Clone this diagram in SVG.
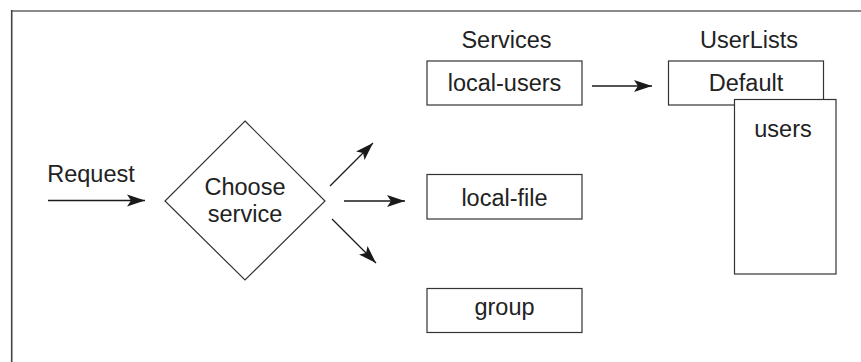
<svg xmlns="http://www.w3.org/2000/svg" width="861" height="362" viewBox="0 0 861 362">
<defs>
<marker id="ah" markerUnits="userSpaceOnUse" markerWidth="20" markerHeight="14" refX="18" refY="7" orient="auto">
<path d="M0,1 L18,7 L0,13 L4,7 Z" fill="#1a1a1a"/>
</marker>
</defs>
<style>
text{font-family:"Liberation Sans",Arial,sans-serif;font-size:23.5px;fill:#222;text-anchor:middle}
.box{fill:#fff;stroke:#333;stroke-width:1.2}
.c{stroke:#1a1a1a;stroke-width:1.3;fill:none;marker-end:url(#ah)}
</style>
<rect width="861" height="362" fill="#fff"/>
<g id="frame">
<line x1="11" y1="11" x2="861" y2="11" stroke="#8a8a8a" stroke-width="2"/>
<line x1="11.7" y1="10" x2="11.7" y2="362" stroke="#444" stroke-width="1.6"/>
</g>
<g id="request-label"><text x="91" y="181.7">Request</text></g>
<g id="choose-service">
<polygon class="box" points="245,121 325,201 245,280 165,201"/>
<text x="245" y="195">Choose</text>
<text x="245" y="222">service</text>
</g>
<g id="services-label"><text x="506.5" y="47.7">Services</text></g>
<g id="local-users">
<rect class="box" x="427" y="61" width="155" height="44"/>
<text x="504.5" y="90.7">local-users</text>
</g>
<g id="local-file">
<rect class="box" x="427" y="174.5" width="155" height="44.5"/>
<text x="504.5" y="206">local-file</text>
</g>
<g id="group">
<rect class="box" x="427" y="288.5" width="155" height="44"/>
<text x="504.5" y="315">group</text>
</g>
<g id="userlists-label"><text x="749" y="47.7">UserLists</text></g>
<g id="default">
<rect class="box" x="668.5" y="61" width="155" height="44"/>
<text x="746" y="91">Default</text>
</g>
<g id="users">
<rect class="box" x="734.5" y="99.5" width="101.5" height="174.5"/>
<text x="783" y="136.7">users</text>
</g>
<g id="connectors">
<line class="c" x1="48" y1="200.5" x2="145" y2="200.5"/>
<line class="c" x1="330" y1="186" x2="373" y2="143"/>
<line class="c" x1="344" y1="201" x2="405" y2="201"/>
<line class="c" x1="332" y1="219" x2="376" y2="263"/>
<line class="c" x1="592" y1="86" x2="652" y2="86"/>
</g>
</svg>
